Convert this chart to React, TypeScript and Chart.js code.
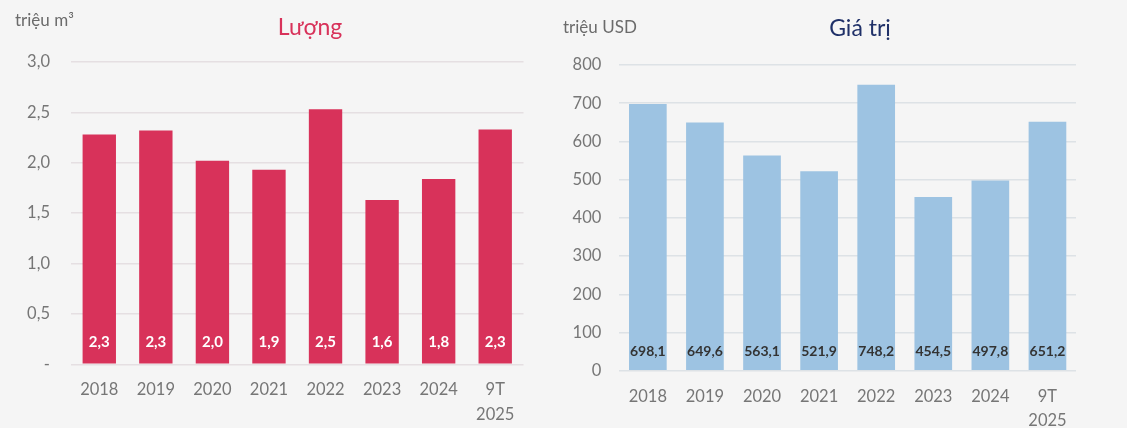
import React, { useEffect, useRef } from "react";
import { Chart, registerables } from "chart.js";

Chart.register(...registerables);

const categories: (string | string[])[] = ["2018", "2019", "2020", "2021", "2022", "2023", "2024", ["9T", "2025"]];
const volumeValues = [2.28, 2.32, 2.02, 1.93, 2.53, 1.63, 1.84, 2.33];
const valueValues = [698.1, 649.6, 563.1, 521.9, 748.2, 454.5, 497.8, 651.2];

const FONT = "Lato, 'Open Sans', sans-serif";
const BG = "#f5f5f5";

const fmtComma = (v: number, d: number) => v.toFixed(d).replace(".", ",");

type PanelProps = {
  width: number;
  values: number[];
  max: number;
  step: number;
  tickFmt: (v: number) => string;
  labelFmt: (v: number) => string;
  barColor: string;
  gridColor: string;
  title: string;
  titleColor: string;
  titleX: number;
  titleY: number;
  unit: string;
  unitX: number;
  unitY: number;
  yWidth: number;
  padRight: number;
  padTop: number;
  xHeight: number;
  yPad: number;
  xPad: number;
  xLine: number;
  barPct: number;
  labelColor: string;
  labelFont: number;
  labelOffset: number;
};

function Panel(p: PanelProps) {
  const ref = useRef<HTMLCanvasElement | null>(null);
  useEffect(() => {
    if (!ref.current) return;
    const textPlugin = {
      id: "texts",
      afterDraw(chart: any) {
        const ctx = chart.ctx;
        ctx.save();
        ctx.textBaseline = "middle";
        ctx.textAlign = "center";
        ctx.fillStyle = p.titleColor;
        ctx.font = `23px ${FONT}`;
        ctx.fillText(p.title, p.titleX, p.titleY);
        ctx.textAlign = "left";
        ctx.fillStyle = "#6b6b6b";
        ctx.font = `17px ${FONT}`;
        ctx.fillText(p.unit, p.unitX, p.unitY);
        // data labels at base of bars
        const meta = chart.getDatasetMeta(0);
        ctx.textAlign = "center";
        ctx.fillStyle = p.labelColor;
        ctx.font = `bold ${p.labelFont}px ${FONT}`;
        meta.data.forEach((el: any, i: number) => {
          ctx.fillText(p.labelFmt(p.values[i]), el.x, el.base - p.labelOffset);
        });
        ctx.restore();
      },
    };
    const chart = new Chart(ref.current, {
      type: "bar",
      data: {
        labels: categories,
        datasets: [
          {
            data: p.values,
            backgroundColor: p.barColor,
            categoryPercentage: 1,
            barPercentage: p.barPct,
          },
        ],
      },
      options: {
        responsive: false,
        animation: false,
        layout: { padding: { left: 0, right: p.padRight, top: p.padTop, bottom: 0 } },
        plugins: { legend: { display: false }, tooltip: { enabled: false }, title: { display: false } },
        scales: {
          x: {
            grid: { display: false, drawTicks: false },
            border: { display: false },
            ticks: {
              color: "#767676",
              font: { family: FONT, size: 16.5, lineHeight: p.xLine / 16.5 },
              padding: p.xPad,
              maxRotation: 0,
              autoSkip: false,
            },
            afterFit: (s: any) => {
              s.height = p.xHeight;
            },
          },
          y: {
            min: 0,
            max: p.max,
            grid: { color: p.gridColor, lineWidth: 1.5, drawTicks: false },
            border: { display: false },
            ticks: {
              stepSize: p.step,
              color: "#767676",
              font: { family: FONT, size: 16.5 },
              padding: p.yPad,
              callback: (v: any) => p.tickFmt(Number(v)),
            },
            afterFit: (s: any) => {
              s.width = p.yWidth;
            },
          },
        },
      },
      plugins: [textPlugin],
    });
    return () => chart.destroy();
  }, []);
  return <canvas ref={ref} width={p.width} height={428} style={{ display: "block" }} />;
}

export default function App() {
  useEffect(() => {
    document.body.style.margin = "0";
    document.body.style.background = BG;
  }, []);
  return (
    <div style={{ width: 1127, height: 428, background: BG, display: "flex" }}>
      <Panel
        width={560}
        values={volumeValues}
        max={3}
        step={0.5}
        tickFmt={(v) => (v === 0 ? "-" : fmtComma(v, 1))}
        labelFmt={(v) => fmtComma(v, 1)}
        barColor="#d8325a"
        gridColor="#e5dfe2"
        title="Lượng"
        titleColor="#d8325a"
        titleX={310}
        titleY={28}
        unit="triệu m³"
        unitX={15}
        unitY={21}
        yWidth={71}
        padRight={36.5}
        padTop={62}
        xHeight={63.7}
        yPad={21}
        xPad={13}
        xLine={25}
        barPct={0.59}
        labelColor="#ffffff"
        labelFont={15}
        labelOffset={21}
      />
      <Panel
        width={567}
        values={valueValues}
        max={800}
        step={100}
        tickFmt={(v) => String(v)}
        labelFmt={(v) => fmtComma(v, 1)}
        barColor="#9dc3e2"
        gridColor="#dde2e6"
        title="Giá trị"
        titleColor="#1f3068"
        titleX={300}
        titleY={29}
        unit="triệu USD"
        unitX={3}
        unitY={28}
        yWidth={59.3}
        padRight={51}
        padTop={65}
        xHeight={57.3}
        yPad={18}
        xPad={14.3}
        xLine={24}
        barPct={0.66}
        labelColor="#333333"
        labelFont={14}
        labelOffset={18.4}
      />
    </div>
  );
}
